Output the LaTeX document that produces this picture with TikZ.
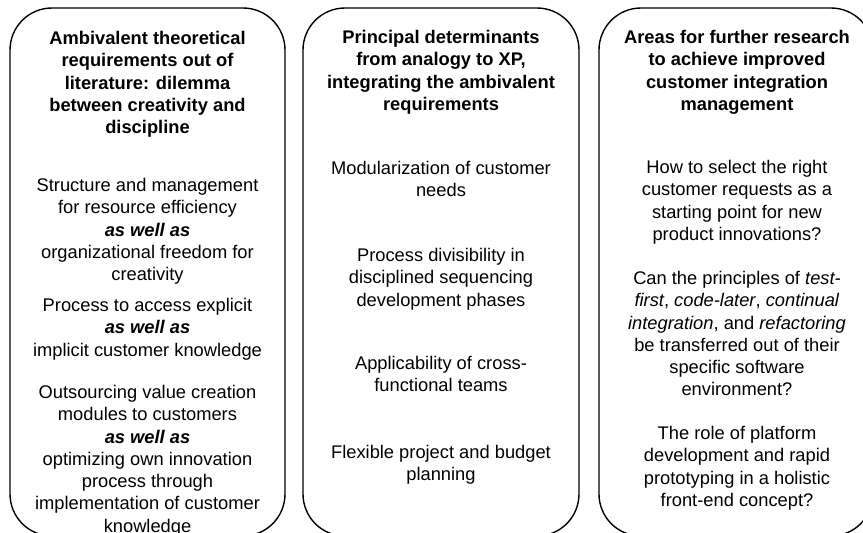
\documentclass[tikz,border=0pt]{standalone}
\usepackage{fontspec}
\setmainfont{Liberation Sans}
\tikzset{
  panel/.style={draw=black, line width=1.4pt, rounded corners=42pt},
  para/.style={align=center, inner sep=0pt, anchor=north, font=\fontsize{18.3}{22.3}\selectfont},
  head/.style={para, font=\fontsize{18.3}{22.3}\selectfont\bfseries},
}
\newcommand{\awa}{\textbf{\textit{as well as}}}
\begin{document}
\begin{tikzpicture}[x=1pt,y=1pt]
\useasboundingbox (0,0) rectangle (863,-533);
\clip (0,0) rectangle (863,-533);
\fill[white] (0,0) rectangle (863,-533);
% panels
\draw[panel] (10,-8) rectangle (285,-536);
\draw[panel] (303,-8) rectangle (579,-536);
\draw[panel] (599,-8) rectangle (873,-536);
% column 1
\node[head] (h1) at (147.5,-31) {Ambivalent theoretical\\requirements out of\\literature: dilemma\\between creativity and\\discipline};
\node[para] (a1) at (147.5,-178) {Structure and management\\for resource efficiency\\\awa\\organizational freedom for\\creativity};
\node[para] (a2) at (147.5,-298) {Process to access explicit\\\awa\\implicit customer knowledge};
\node[para] (a3) at (147.5,-385) {Outsourcing value creation\\modules to customers\\\awa\\optimizing own innovation\\process through\\implementation of customer\\knowledge};
% column 2
\node[head] (h2) at (441,-30) {Principal determinants\\from analogy to XP,\\integrating the ambivalent\\requirements};
\node[para] (b1) at (441,-161) {Modularization of customer\\needs};
\node[para] (b2) at (441,-248) {Process divisibility in\\disciplined sequencing\\development phases};
\node[para] (b3) at (441,-356) {Applicability of cross-\\functional teams};
\node[para] (b4) at (441,-445) {Flexible project and budget\\planning};
% column 3
\node[head] (h3) at (737,-30) {Areas for further research\\to achieve improved\\customer integration\\management};
\node[para] (c1) at (737,-160) {How to select the right\\customer requests as a\\starting point for new\\product innovations?};
\node[para] (c2) at (737,-271) {Can the principles of \textit{test-}\\\textit{first}, \textit{code-later}, \textit{continual}\\\textit{integration}, and \textit{refactoring}\\be transferred out of their\\specific software\\environment?};
\node[para] (c3) at (737,-426) {The role of platform\\development and rapid\\prototyping in a holistic\\front-end concept?};
\end{tikzpicture}
\end{document}
